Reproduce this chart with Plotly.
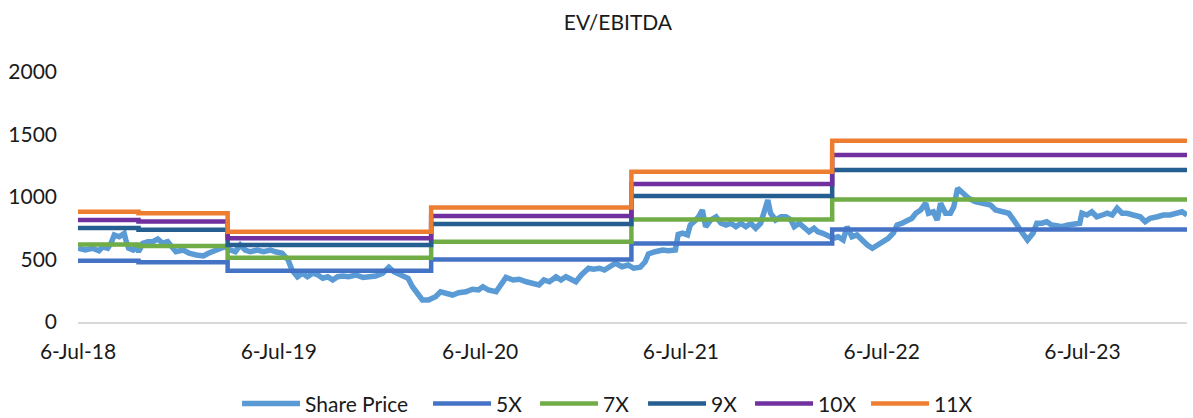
import plotly.graph_objects as go

# Share price (daily close, sampled)
price_dates = [
    "2018-07-06", "2018-07-19", "2018-08-01", "2018-08-13", "2018-08-20", "2018-08-29",
    "2018-09-04", "2018-09-10", "2018-09-19", "2018-09-28", "2018-10-01", "2018-10-06",
    "2018-10-14", "2018-10-19", "2018-10-24", "2018-11-01", "2018-11-10", "2018-11-19",
    "2018-11-28", "2018-12-07", "2018-12-16", "2018-12-25", "2018-12-31", "2019-01-13",
    "2019-01-24", "2019-02-06", "2019-02-19", "2019-02-28", "2019-03-07", "2019-03-18",
    "2019-03-30", "2019-04-09", "2019-04-18", "2019-04-27", "2019-05-06", "2019-05-15",
    "2019-05-28", "2019-06-08", "2019-06-21", "2019-06-30", "2019-07-12", "2019-07-23",
    "2019-07-30", "2019-08-09", "2019-08-18", "2019-08-27", "2019-09-06", "2019-09-15",
    "2019-09-24", "2019-10-03", "2019-10-12", "2019-10-21", "2019-10-30", "2019-11-10",
    "2019-11-23", "2019-12-06", "2019-12-16", "2019-12-29", "2020-01-11", "2020-01-22",
    "2020-01-31", "2020-02-13", "2020-02-26", "2020-03-05", "2020-03-14", "2020-03-23",
    "2020-04-03", "2020-04-16", "2020-04-25", "2020-05-04", "2020-05-17", "2020-05-28",
    "2020-06-10", "2020-06-22", "2020-07-03", "2020-07-11", "2020-07-21", "2020-08-04",
    "2020-08-13", "2020-08-22", "2020-09-04", "2020-09-15", "2020-09-28", "2020-10-10",
    "2020-10-21", "2020-10-30", "2020-11-09", "2020-11-21", "2020-11-30", "2020-12-09",
    "2020-12-18", "2020-12-27", "2021-01-06", "2021-01-19", "2021-01-28", "2021-02-08",
    "2021-02-17", "2021-02-26", "2021-03-09", "2021-03-21", "2021-04-01", "2021-04-11",
    "2021-04-23", "2021-05-02", "2021-05-08", "2021-05-20", "2021-06-03", "2021-06-13",
    "2021-06-26", "2021-07-01", "2021-07-09", "2021-07-18", "2021-07-23", "2021-08-02",
    "2021-08-07", "2021-08-14", "2021-08-20", "2021-08-29", "2021-09-08", "2021-09-17",
    "2021-09-26", "2021-10-05", "2021-10-14", "2021-10-23", "2021-11-01", "2021-11-10",
    "2021-11-19", "2021-11-28", "2021-12-04", "2021-12-11", "2021-12-16", "2021-12-25",
    "2022-01-04", "2022-01-13", "2022-01-22", "2022-01-28", "2022-02-06", "2022-02-15",
    "2022-02-24", "2022-03-05", "2022-03-12", "2022-03-21", "2022-03-30", "2022-04-09",
    "2022-04-18", "2022-04-27", "2022-05-04", "2022-05-13", "2022-05-22", "2022-05-31",
    "2022-06-10", "2022-06-19", "2022-06-28", "2022-07-09", "2022-07-18", "2022-07-27",
    "2022-08-03", "2022-08-12", "2022-08-21", "2022-08-30", "2022-09-06", "2022-09-15",
    "2022-09-24", "2022-09-29", "2022-10-08", "2022-10-15", "2022-10-21", "2022-10-30",
    "2022-11-08", "2022-11-14", "2022-11-21", "2022-11-30", "2022-12-11", "2022-12-23",
    "2023-01-06", "2023-01-20", "2023-01-29", "2023-02-11", "2023-02-22", "2023-03-03",
    "2023-03-10", "2023-03-19", "2023-03-28", "2023-04-07", "2023-04-14", "2023-04-23",
    "2023-05-02", "2023-05-11", "2023-05-20", "2023-05-29", "2023-06-10", "2023-06-22",
    "2023-07-01", "2023-07-05", "2023-07-14", "2023-07-23", "2023-08-01", "2023-08-11",
    "2023-08-20", "2023-08-29", "2023-09-07", "2023-09-16", "2023-09-25", "2023-10-06",
    "2023-10-19", "2023-10-28", "2023-11-06", "2023-11-19", "2023-11-30", "2023-12-12",
    "2023-12-25", "2024-01-03", "2024-01-12",
]
share_price = [
    590, 576, 590, 570, 602, 590,
    630, 696, 682, 709, 656, 590,
    576, 602, 562, 630, 642, 642,
    664, 630, 642, 602, 562, 576,
    550, 536, 528, 550, 562, 576,
    602, 576, 562, 616, 576, 562,
    576, 562, 576, 562, 550, 496,
    416, 362, 390, 362, 390, 376,
    350, 362, 336, 362, 368, 362,
    376, 357, 362, 368, 390, 438,
    402, 376, 350, 282, 230, 176,
    176, 202, 242, 230, 216, 234,
    242, 262, 256, 282, 256, 242,
    310, 357, 336, 342, 322, 310,
    296, 336, 322, 362, 336, 362,
    336, 322, 376, 430, 422, 430,
    416, 442, 470, 442, 456, 430,
    438, 482, 544, 562, 576, 570,
    576, 700, 710, 696, 776, 816,
    842, 896, 762, 816, 842, 790,
    776, 790, 762, 790, 762, 790,
    750, 790, 896, 976, 870, 816,
    842, 842, 816, 762, 790, 762,
    722, 750, 722, 710, 696, 670,
    682, 656, 762, 682, 696, 656,
    616, 590, 616, 656, 670, 710,
    776, 790, 816, 830, 870, 896,
    950, 870, 882, 816, 950, 870,
    870, 922, 1070, 1030, 990, 962,
    950, 936, 896, 882, 870, 816,
    762, 710, 656, 710, 790, 790,
    802, 776, 770, 762, 776, 790,
    790, 870, 856, 882, 842, 856,
    870, 856, 910, 870, 870, 856,
    842, 802, 830, 842, 856, 856,
    870, 882, 856,
]

# Valuation bands: implied price at each EV/EBITDA multiple, per reporting period
band_dates = ["2018-07-06", "2018-10-24", "2019-04-04", "2020-04-08",
              "2021-04-07", "2022-04-07", "2024-01-12"]
band_5x = [491, 478, 411, 501, 629, 741, 741]
band_7x = [621, 608, 515, 643, 821, 981, 981]
band_9x = [752, 739, 616, 784, 1008, 1216, 1216]
band_10x = [817, 804, 670, 848, 1104, 1336, 1336]
band_11x = [882, 870, 722, 917, 1203, 1451, 1451]

tick_dates = ["2018-07-06", "2019-07-06", "2020-07-06",
              "2021-07-06", "2022-07-06", "2023-07-06"]
tick_labels = ["6-Jul-18", "6-Jul-19", "6-Jul-20", "6-Jul-21", "6-Jul-22", "6-Jul-23"]

FONT = "Lato"

fig = go.Figure()
fig.add_trace(go.Scatter(
    x=price_dates, y=share_price, name="Share Price", mode="lines",
    line=dict(color="#5B9BD5", width=5.5), legendwidth=118,
))
bands = [
    ("5X", band_5x, "#4472C4", 34),
    ("7X", band_7x, "#70AD47", 35),
    ("9X", band_9x, "#255E91", 34),
    ("10X", band_10x, "#7030A0", 43),
    ("11X", band_11x, "#ED7D31", 36),
]
for name, vals, color, lw in bands:
    fig.add_trace(go.Scatter(
        x=band_dates, y=vals, name=name, mode="lines",
        line=dict(color=color, width=4.5, shape="hv"), legendwidth=lw,
    ))

fig.update_layout(
    width=1193, height=418,
    margin=dict(l=78, r=6, t=72, b=96),
    paper_bgcolor="white", plot_bgcolor="white",
    font=dict(family=FONT, size=21, color="#1a1a1a"),
    title=dict(text="EV/EBITDA", x=0.518, xref="container", xanchor="center",
               y=0.947, yref="container", yanchor="middle",
               font=dict(family=FONT, size=21, color="#1a1a1a")),
    showlegend=True,
    legend=dict(orientation="h", x=0.508, xref="container", xanchor="center",
                y=0.034, yref="container", yanchor="middle",
                font=dict(family=FONT, size=21, color="#1a1a1a"),
                itemwidth=58, tracegroupgap=0),
    xaxis=dict(
        type="date", range=["2018-07-06", "2024-01-12"],
        tickvals=tick_dates, ticktext=tick_labels,
        showgrid=False, zeroline=False,
        showline=True, linecolor="#D9D9D9", linewidth=1.5,
        ticks="", ticklabelstandoff=10,
    ),
    yaxis=dict(
        range=[0, 2000], tickvals=[0, 500, 1000, 1500, 2000],
        showgrid=False, zeroline=False, showline=False,
        ticks="", ticklabelstandoff=20,
    ),
)

fig.write_html("out.html")
